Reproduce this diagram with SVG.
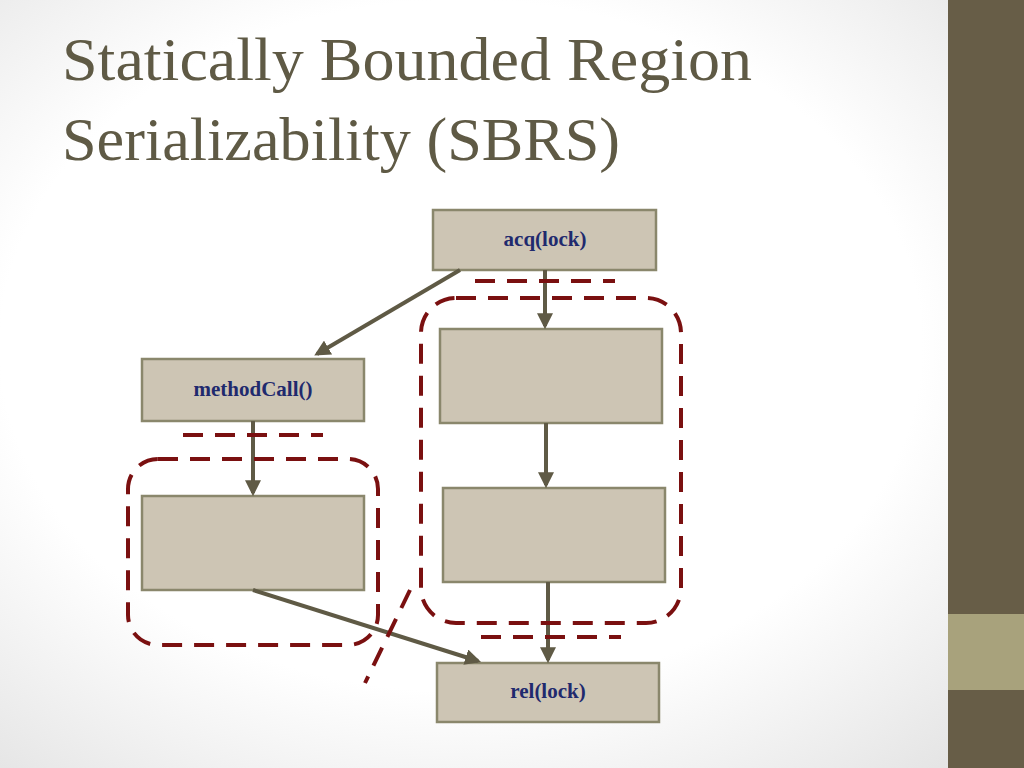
<svg xmlns="http://www.w3.org/2000/svg" width="1024" height="768" viewBox="0 0 1024 768">
<defs>
<radialGradient id="bg" cx="0.45" cy="0.45" r="0.75">
<stop offset="0.6" stop-color="#ffffff"/><stop offset="1" stop-color="#e2e2e2"/>
</radialGradient>
<marker id="ah" viewBox="0 0 10 10" refX="8" refY="5" markerWidth="4" markerHeight="4" orient="auto"><path d="M0,0 L10,5 L0,10 z" fill="#5f5a45"/></marker>
<style>
.box{fill:#cdc5b4;stroke:#8a876c;stroke-width:2.5}
.lbl{font-family:"Liberation Serif",serif;font-weight:bold;font-size:21px;fill:#1f2a6e;text-anchor:middle}
.arr{stroke:#5f5a45;stroke-width:4;fill:none;marker-end:url(#ah)}
.dash{stroke:#7a1010;stroke-width:4;fill:none;stroke-dasharray:20 12}
.ttl{font-family:"Liberation Serif",serif;font-size:62px;fill:#5f5a45}
</style>
</defs>
<rect width="1024" height="768" fill="url(#bg)"/>
<rect x="948" y="0" width="76" height="768" fill="#675d47"/>
<rect x="948" y="614" width="76" height="76" fill="#a8a27c"/>
<text class="ttl" x="62" y="80" textLength="690" lengthAdjust="spacingAndGlyphs">Statically Bounded Region</text>
<text class="ttl" x="62" y="160" textLength="558" lengthAdjust="spacingAndGlyphs">Serializability (SBRS)</text>
<g id="acq"><rect class="box" x="433" y="210" width="223" height="60"/><text class="lbl" x="545" y="246">acq(lock)</text></g>
<g id="methodCall"><rect class="box" x="142" y="359" width="222" height="62"/><text class="lbl" x="253" y="396">methodCall()</text></g>
<g id="leftbox"><rect class="box" x="142" y="496" width="222" height="94"/></g>
<g id="right1"><rect class="box" x="440" y="329" width="222" height="94"/></g>
<g id="right2"><rect class="box" x="443" y="488" width="222" height="94"/></g>
<g id="rel"><rect class="box" x="437" y="663" width="222" height="59"/><text class="lbl" x="548" y="698">rel(lock)</text></g>
<g id="connectors">
<line class="arr" x1="460" y1="270" x2="317" y2="354"/>
<line class="arr" x1="545" y1="270" x2="545" y2="326"/>
<line class="arr" x1="253" y1="421" x2="253" y2="493"/>
<line class="arr" x1="546" y1="423" x2="546" y2="485"/>
<line class="arr" x1="548" y1="582" x2="548" y2="660"/>
<line class="arr" x1="253" y1="590" x2="478" y2="661"/>
</g>
<g id="regions">
<line class="dash" x1="475" y1="281" x2="615" y2="281"/>
<line class="dash" x1="183" y1="435" x2="323" y2="435"/>
<line class="dash" x1="481" y1="637" x2="621" y2="637"/>
<rect class="dash" x="128" y="459" width="250" height="186" rx="30"/>
<rect class="dash" x="421" y="298" width="260" height="325" rx="35"/>
<line class="dash" x1="410" y1="590" x2="365" y2="683"/>
</g>
</svg>
